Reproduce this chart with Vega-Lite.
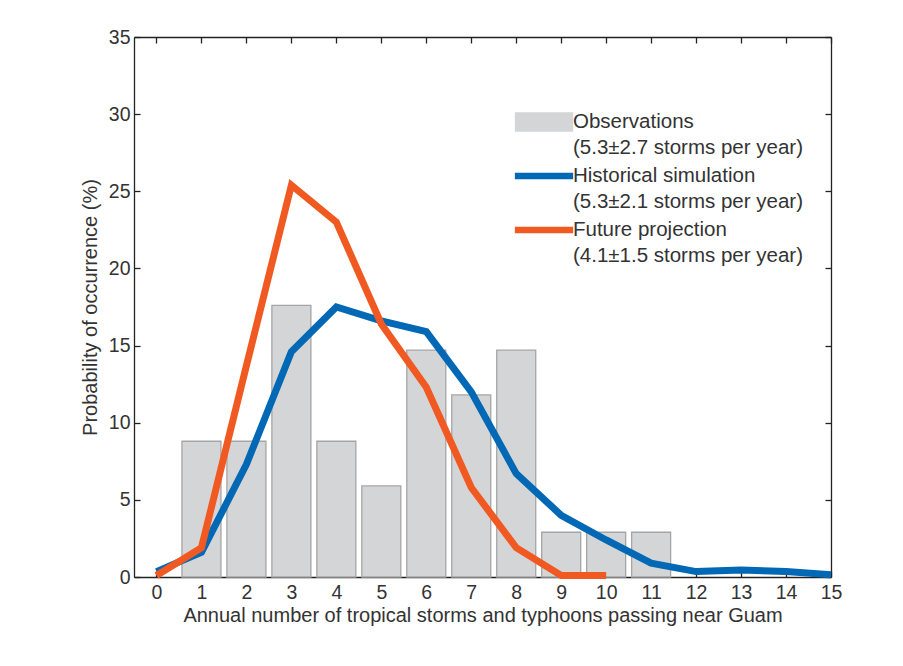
{
  "$schema": "https://vega.github.io/schema/vega-lite/v6.json",
  "width": 697,
  "height": 540,
  "autosize": "none",
  "padding": {"left": 134, "top": 37, "right": 72, "bottom": 89},
  "background": "white",
  "config": {
    "font": "Liberation Sans",
    "view": {"stroke": null},
    "axis": {
      "grid": false,
      "domainColor": "#222",
      "domainWidth": 1.3,
      "tickColor": "#222",
      "tickWidth": 1.3,
      "tickSize": -6,
      "labelFlush": false,
      "labelFont": "Liberation Sans",
      "labelFontSize": 19.5,
      "labelColor": "#333",
      "titleFont": "Liberation Sans",
      "titleFontSize": 20,
      "titleFontWeight": "normal",
      "titleColor": "#333"
    }
  },
  "data": {
    "values": [
      {"n": 1, "p": 8.8, "series": "Observations"},
      {"n": 2, "p": 8.8, "series": "Observations"},
      {"n": 3, "p": 17.6, "series": "Observations"},
      {"n": 4, "p": 8.8, "series": "Observations"},
      {"n": 5, "p": 5.9, "series": "Observations"},
      {"n": 6, "p": 14.7, "series": "Observations"},
      {"n": 7, "p": 11.8, "series": "Observations"},
      {"n": 8, "p": 14.7, "series": "Observations"},
      {"n": 9, "p": 2.9, "series": "Observations"},
      {"n": 10, "p": 2.9, "series": "Observations"},
      {"n": 11, "p": 2.9, "series": "Observations"},
      {"n": 0, "p": 0.35, "series": "Historical simulation"},
      {"n": 1, "p": 1.6, "series": "Historical simulation"},
      {"n": 2, "p": 7.3, "series": "Historical simulation"},
      {"n": 3, "p": 14.6, "series": "Historical simulation"},
      {"n": 4, "p": 17.5, "series": "Historical simulation"},
      {"n": 5, "p": 16.6, "series": "Historical simulation"},
      {"n": 6, "p": 15.9, "series": "Historical simulation"},
      {"n": 7, "p": 12.0, "series": "Historical simulation"},
      {"n": 8, "p": 6.7, "series": "Historical simulation"},
      {"n": 9, "p": 4.0, "series": "Historical simulation"},
      {"n": 10, "p": 2.4, "series": "Historical simulation"},
      {"n": 11, "p": 0.9, "series": "Historical simulation"},
      {"n": 12, "p": 0.35, "series": "Historical simulation"},
      {"n": 13, "p": 0.45, "series": "Historical simulation"},
      {"n": 14, "p": 0.35, "series": "Historical simulation"},
      {"n": 15, "p": 0.15, "series": "Historical simulation"},
      {"n": 0, "p": 0.1, "series": "Future projection"},
      {"n": 1, "p": 1.9, "series": "Future projection"},
      {"n": 2, "p": 13.7, "series": "Future projection"},
      {"n": 3, "p": 25.4, "series": "Future projection"},
      {"n": 4, "p": 23.0, "series": "Future projection"},
      {"n": 5, "p": 16.4, "series": "Future projection"},
      {"n": 6, "p": 12.3, "series": "Future projection"},
      {"n": 7, "p": 5.8, "series": "Future projection"},
      {"n": 8, "p": 1.9, "series": "Future projection"},
      {"n": 9, "p": 0.1, "series": "Future projection"},
      {"n": 10, "p": 0.1, "series": "Future projection"}
    ]
  },
  "encoding": {
    "color": {
      "field": "series",
      "type": "nominal",
      "scale": {
        "domain": ["Observations", "Historical simulation", "Future projection"],
        "range": ["#d4d5d7", "#0068b4", "#f05a22"]
      },
      "legend": {
        "orient": "none",
        "legendX": 395,
        "legendY": 70,
        "padding": 0,
        "title": null,
        "symbolType": "M-2,-0.64H2V0.64H-2Z",
        "symbolSize": 812,
        "symbolStrokeColor": "#a5a5a5",
        "symbolStrokeWidth": 1.3,
        "labelFontSize": 20.5,
        "labelFont": "Liberation Sans",
        "labelColor": "#333",
        "labelBaseline": "top",
        "labelOffset": 14,
        "labelLimit": 400,
        "rowPadding": 2,
        "labelExpr": "datum.value == 'Observations' ? ['Observations', '(5.3±2.7 storms per year)'] : datum.value == 'Historical simulation' ? ['Historical simulation', '(5.3±2.1 storms per year)'] : ['Future projection', '(4.1±1.5 storms per year)']",
        "encode": {
          "symbols": {
            "update": {
              "shape": {"signal": "datum.value == 'Observations' ? 'M-2,-0.64H2V0.64H-2Z' : 'M-2,-0.18H2V0.18H-2Z'"},
              "fill": {"scale": "color", "field": "value"},
              "fillOpacity": {"value": 1},
              "stroke": {"signal": "datum.value == 'Observations' ? '#a5a5a5' : scale('color', datum.value)"},
              "strokeOpacity": {"value": 1},
              "strokeWidth": {"value": 1.3}
            }
          },
          "labels": {
            "update": {"lineHeight": {"value": 26}, "dy": {"value": -10}}
          }
        }
      }
    }
  },
  "layer": [
    {
      "transform": [{"filter": "datum.series == 'Observations'"}],
      "mark": {"type": "bar", "size": 39, "stroke": "#a5a5a5", "strokeWidth": 1.3},
      "encoding": {
        "x": {
          "field": "n", "type": "quantitative",
          "scale": {"domain": [-0.5, 15], "nice": false, "zero": false, "padding": 0},
          "axis": {"orient": "bottom", "values": [0,1,2,3,4,5,6,7,8,9,10,11,12,13,14,15], "labelPadding": 12, "title": "Annual number of tropical storms and typhoons passing near Guam", "titlePadding": 4}
        },
        "y": {
          "field": "p", "type": "quantitative",
          "scale": {"domain": [0, 35], "nice": false},
          "axis": {"orient": "left", "values": [0,5,10,15,20,25,30,35], "labelPadding": 10, "title": "Probability of occurrence (%)", "titlePadding": 8}
        }
      }
    },
    {
      "transform": [{"filter": "datum.series == 'Historical simulation'"}],
      "mark": {"type": "line", "strokeWidth": 7},
      "encoding": {
        "x": {
          "field": "n", "type": "quantitative",
          "axis": {"orient": "top", "values": [0,1,2,3,4,5,6,7,8,9,10,11,12,13,14,15], "labels": false, "title": null}
        },
        "y": {
          "field": "p", "type": "quantitative",
          "axis": {"orient": "right", "values": [0,5,10,15,20,25,30,35], "labels": false, "title": null}
        }
      }
    },
    {
      "transform": [{"filter": "datum.series == 'Future projection'"}],
      "mark": {"type": "line", "strokeWidth": 7},
      "encoding": {
        "x": {"field": "n", "type": "quantitative", "axis": null},
        "y": {"field": "p", "type": "quantitative", "axis": null}
      }
    }
  ],
  "resolve": {"axis": {"x": "independent", "y": "independent"}}
}
